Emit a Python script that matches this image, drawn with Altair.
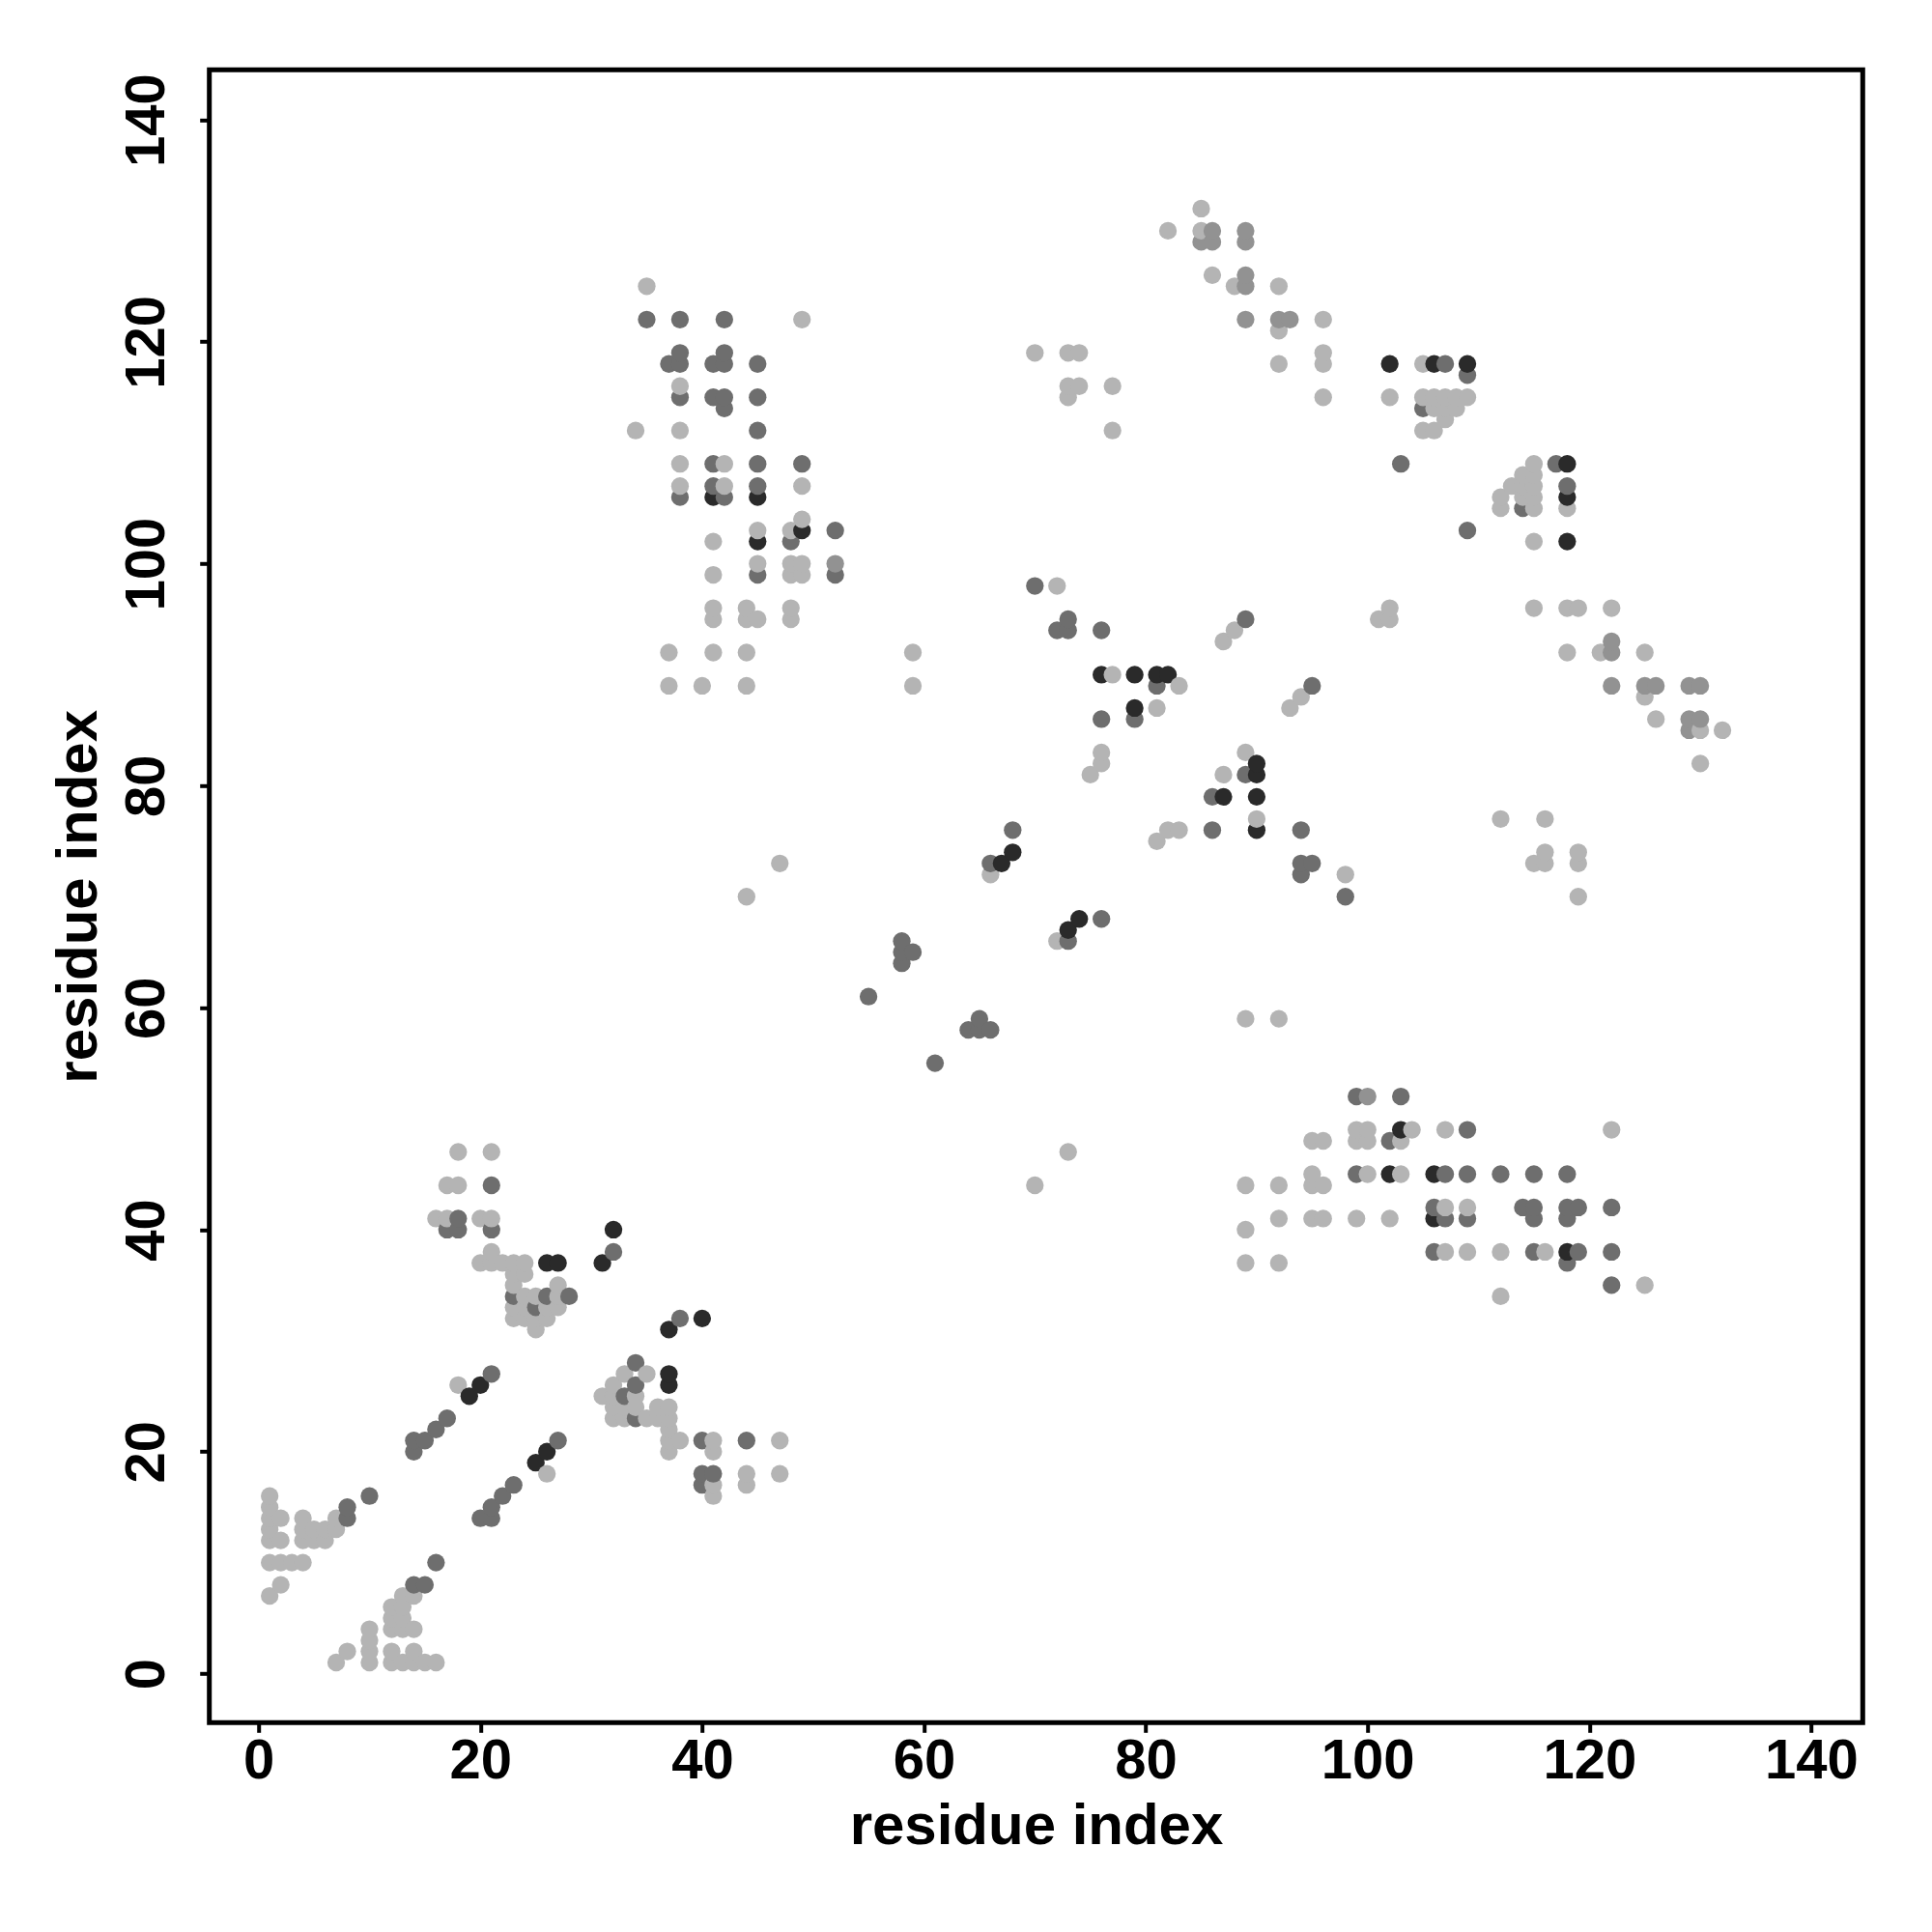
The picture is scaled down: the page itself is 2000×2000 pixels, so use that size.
import altair as alt
import pandas as pd

# Contact points (residue i, residue j), grouped by grey level
light = [
    (1,16),(1,15),(1,14),(1,13),(1,12),(2,14),(2,12),(4,14),(4,13),(4,12),(5,13),(5,12),(6,13),(6,12),
    (7,14),(7,13),(1,10),(2,10),(3,10),(4,10),(2,8),(1,7),
    (13,7),(14,7),(12,6),(13,6),(12,5),(13,5),(12,4),(13,4),(14,4),(10,4),(10,3),(10,2),(12,2),(14,2),
    (8,2),(7,1),(10,1),(12,1),(13,1),(14,1),(15,1),(16,1),
    (18,26),(26,18),
    (18,47),(21,47),(17,44),(18,44),(16,41),(17,41),(20,41),(21,41),(21,38),(20,37),(21,37),(22,37),
    (23,37),(24,37),(23,36),(24,36),(23,35),(27,35),(24,34),(25,34),(27,34),(23,33),(24,33),(26,33),
    (27,33),(23,32),(24,32),(25,32),(26,32),(25,31),
    (33,27),(35,27),(32,26),(31,25),(32,25),(34,25),(32,24),(33,24),(34,24),(36,24),(37,24),(32,23),
    (33,23),(35,23),(36,23),(37,23),(37,22),(37,21),(38,21),(41,21),(47,21),(37,20),(41,20),(44,18),
    (47,18),(41,17),(44,17),(41,16),
    (35,125),(49,122),(38,116),(34,112),(38,112),(38,109),(42,109),(38,107),(42,107),(49,107),(49,104),
    (45,103),(48,103),(41,102),(45,100),(48,100),(49,100),(41,99),(48,99),(49,99),(41,96),(44,96),
    (48,96),(41,95),(44,95),(45,95),(48,95),(37,92),(41,92),(44,92),(37,89),(40,89),(44,89),
    (44,70),(47,73),
    (66,72),(72,66),(59,92),(59,89),(72,98),(77,90),(83,89),(81,87),(76,83),(76,82),(75,81),(88,94),
    (87,93),(94,88),(93,87),(89,83),(87,81),(90,77),(81,75),(82,76),(83,76),(98,72),(89,59),(92,59),
    (70,119),(73,119),(74,119),(73,116),(73,115),(74,116),(77,116),(77,112),(70,44),(73,47),
    (85,132),(82,130),(85,130),(86,126),(88,125),(92,125),(92,121),(96,122),(96,119),(92,118),(96,118),
    (105,118),(96,115),(102,115),(105,115),(106,115),(107,115),(108,115),(109,115),(106,114),(107,114),
    (108,114),(107,113),(105,112),(106,112),
    (115,109),(114,108),(115,108),(113,107),(114,107),(115,107),(112,106),(114,106),(115,106),(112,105),
    (115,105),(118,105),(115,102),(115,96),(118,96),(119,96),(122,96),(101,95),(102,96),(102,95),
    (118,92),(121,92),(125,92),(125,88),(126,86),(130,85),(132,85),(130,82),
    (112,77),(116,77),(115,73),(116,74),(116,73),(119,74),(119,73),(119,70),
    (99,49),(100,49),(104,49),(107,49),(122,49),(95,48),(96,48),(99,48),(100,48),(103,48),(95,45),
    (100,45),(103,45),(89,44),(92,44),(95,44),(96,44),(107,42),(109,42),(92,41),(95,41),(96,41),
    (99,41),(102,41),(89,40),(107,38),(109,38),(112,38),(116,38),(89,37),(92,37),(125,35),(112,34),
]
midlight = [
    (52,100),
    (89,130),(85,129),(86,129),(86,130),(89,129),(89,126),(89,125),(89,122),(92,122),(93,122),
    (122,93),(122,92),(122,89),(125,89),(126,89),(129,89),(130,89),(129,86),(130,86),(129,85),
    (100,52),
]
mid = [
    (8,15),(8,14),(10,16),(16,10),(14,8),(15,8),
    (14,21),(14,20),(15,21),(16,22),(17,23),(21,27),(20,14),(21,14),(21,15),(22,16),(23,17),(27,21),
    (21,44),(18,41),(17,40),(18,40),(21,40),(23,34),(26,34),(28,34),(25,33),(32,38),(38,32),
    (34,28),(34,26),(33,25),(34,23),(40,21),(44,21),(40,18),(41,18),(40,17),
    (35,122),(38,122),(42,122),(38,119),(42,119),(37,118),(38,118),(41,118),(42,118),(45,118),(38,115),
    (41,115),(42,115),(45,115),(42,114),(45,112),(41,109),(45,109),(49,109),(41,107),(45,107),(38,106),
    (42,106),(52,103),(48,102),(45,99),(52,99),
    (55,61),(61,55),(58,66),(58,65),(59,65),(58,64),(64,58),(65,58),(66,58),(65,59),(68,76),(66,73),
    (73,66),(76,68),(70,98),(72,94),(73,95),(73,94),(76,94),(79,86),(81,89),(76,86),(89,95),(95,89),
    (89,81),(86,79),(86,76),(94,76),(94,73),(95,73),(94,72),(98,70),
    (107,118),(109,117),(105,114),(103,109),(117,109),(118,107),(114,105),(109,103),
    (99,52),(103,52),(109,49),(102,48),(99,45),(107,45),(109,45),(112,45),(115,45),(118,45),(106,42),
    (114,42),(115,42),(118,42),(119,42),(122,42),(107,41),(109,41),(115,41),(118,41),(106,38),(115,38),
    (119,38),(122,38),(118,37),(122,35),
]
dark = [
    (19,25),(20,26),(25,19),(26,20),
    (26,37),(27,37),(32,40),(31,37),(37,31),(40,32),(37,27),(37,26),
    (41,106),(45,106),(49,103),(45,102),
    (68,74),(67,73),(74,68),(73,67),(76,90),(79,90),(81,90),(82,90),(79,87),(90,82),(90,81),(87,79),
    (90,79),(90,76),
    (102,118),(106,118),(109,118),(118,109),(118,106),(118,102),
    (103,49),(102,45),(106,45),(106,41),(118,38),
]

shade_names = ["light", "midlight", "mid", "dark"]
shade_colors = ["#b4b4b4", "#929292", "#6e6e6e", "#2a2a2a"]
tick_values = [0, 20, 40, 60, 80, 100, 120, 140]

rows = []
for name, pts in zip(shade_names, [light, midlight, mid, dark]):
    for (a, b) in pts:
        rows.append({"x": a, "y": b, "shade": name})
df = pd.DataFrame(rows).sort_values(["x", "y"]).reset_index(drop=True)
df["i"] = range(len(df))

W, H = 1711.6, 1711.0
font = "Liberation Sans"

xaxis = alt.Axis(
    values=tick_values, title="residue index", domain=False, grid=False,
    ticks=True, tickSize=10, tickWidth=4, tickColor="black",
    labelFont=font, labelFontSize=58, labelFontWeight="bold", labelColor="black",
    labelPadding=1, labelFlush=False, labelBaseline="top",
    titleFont=font, titleFontSize=60, titleFontWeight="bold", titleColor="black",
    titleX=W / 2, titleY=125.7, titleBaseline="alphabetic", titleAlign="center",
)
yaxis = alt.Axis(
    values=tick_values, title="residue index", domain=False, grid=False,
    ticks=True, tickSize=10, tickWidth=4, tickColor="black",
    labelFont=font, labelFontSize=58, labelFontWeight="bold", labelColor="black",
    labelAngle=270, labelAlign="center", labelBaseline="alphabetic",
    labelPadding=36.7, labelFlush=False,
    titleFont=font, titleFontSize=60, titleFontWeight="bold", titleColor="black",
    titleAngle=270, titleX=-116.7, titleY=H / 2, titleBaseline="alphabetic", titleAlign="center",
)

chart = alt.Chart(df).mark_circle(size=335, opacity=1).encode(
    x=alt.X("x:Q", scale=alt.Scale(domain=[-4.44, 144.65], nice=False, zero=False), axis=xaxis),
    y=alt.Y("y:Q", scale=alt.Scale(domain=[-4.42, 144.5], nice=False, zero=False), axis=yaxis),
    color=alt.Color("shade:N", scale=alt.Scale(domain=shade_names, range=shade_colors), legend=None),
    order=alt.Order("i:Q"),
).properties(
    width=W, height=H,
    padding={"left": 208.7, "top": 64.3, "right": 60, "bottom": 160},
    autosize=alt.AutoSizeParams(type="none"),
).configure(
    background="white",
    view=alt.ViewConfig(stroke="black", strokeWidth=5, fill="white", strokeOpacity=1),
)

chart.save("out.html", embed_options={"renderer": "svg", "actions": False})
